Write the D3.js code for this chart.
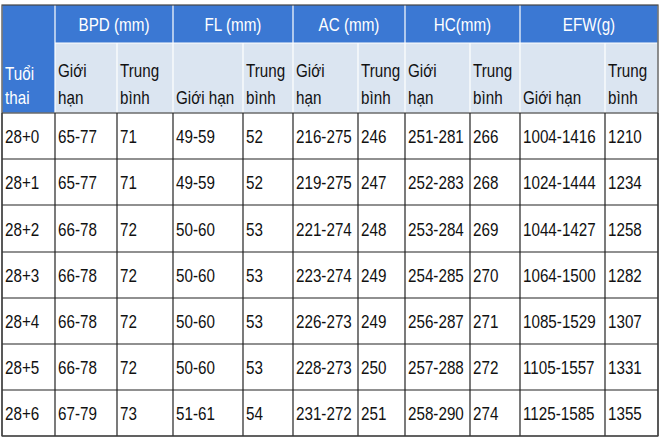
<!DOCTYPE html><html><head><meta charset="utf-8">
<script src="https://cdn.jsdelivr.net/npm/d3@7"></script>
<style>body{margin:0;background:#fff}</style></head><body><svg id="c" width="660" height="440"></svg>
<script>
const groups=["BPD (mm)","FL (mm)","AC (mm)","HC(mm)","EFW(g)"];
const subHeaders=[["Giới","hạn"],["Trung","bình"],["Giới hạn"],["Trung","bình"],["Giới","hạn"],["Trung","bình"],["Giới","hạn"],["Trung","bình"],["Giới hạn"],["Trung","bình"]];
const ages=["28+0","28+1","28+2","28+3","28+4","28+5","28+6"];
const bpdRange=["65-77","65-77","66-78","66-78","66-78","66-78","67-79"];
const bpdMean=[71,71,72,72,72,72,73];
const flRange=["49-59","49-59","50-60","50-60","50-60","50-60","51-61"];
const flMean=[52,52,53,53,53,53,54];
const acRange=["216-275","219-275","221-274","223-274","226-273","228-273","231-272"];
const acMean=[246,247,248,249,249,250,251];
const hcRange=["251-281","252-283","253-284","254-285","256-287","257-288","258-290"];
const hcMean=[266,268,269,270,271,272,274];
const efwRange=["1004-1416","1024-1444","1044-1427","1064-1500","1085-1529","1105-1557","1125-1585"];
const efwMean=[1210,1234,1258,1282,1307,1331,1355];

const colEdges=[2,55,117,173,243,293,358,405,470,520,605,658];
const rowEdges=[5,43,113,159,205,252,298,344,390,436];
const svg=d3.select("#c");
const font="'Liberation Sans',Arial,sans-serif";
const blue="#3b78d3", light="#dbe5f1";
const cols=[ages,bpdRange,bpdMean,flRange,flMean,acRange,acMean,hcRange,hcMean,efwRange,efwMean];
const x=i=>colEdges[i], y=i=>rowEdges[i];
svg.append("rect").attr("x",x(0)).attr("y",y(0)).attr("width",x(11)-x(0)).attr("height",y(1)-y(0)).attr("fill",blue);
svg.append("rect").attr("x",x(0)).attr("y",y(1)).attr("width",x(1)-x(0)).attr("height",y(2)-y(1)).attr("fill",blue);
svg.append("rect").attr("x",x(1)).attr("y",y(1)).attr("width",x(11)-x(1)).attr("height",y(2)-y(1)).attr("fill",light);
const g=svg.append("g").attr("font-family",font).attr("font-size",19);
groups.forEach((t,i)=>g.append("text").attr("x",(x(1+2*i)+x(3+2*i))/2).attr("y",(y(0)+y(1))/2+7).attr("text-anchor","middle").attr("fill","#fff").text(t));
g.append("text").attr("x",x(0)+3).attr("y",y(2)-33).attr("fill","#fff").text("Tuổi");
g.append("text").attr("x",x(0)+3).attr("y",y(2)-9).attr("fill","#fff").text("thai");
subHeaders.forEach((lines,i)=>{
  const n=lines.length;
  lines.forEach((l,j)=>g.append("text").attr("x",x(i+1)+3).attr("y",y(2)-9-(n-1-j)*27).attr("fill","#111").text(l));
});
cols.forEach((col,c)=>col.forEach((v,r)=>g.append("text").attr("x",x(c)+3).attr("y",(y(r+2)+y(r+3))/2+7).attr("fill","#111").text(v)));
// condense to mimic a narrow font
g.selectAll("text").each(function(){const L=this.getComputedTextLength();d3.select(this).attr("textLength",L*0.8).attr("lengthAdjust","spacingAndGlyphs");});
const lines=svg.append("g").attr("stroke","#222").attr("stroke-width",1.2);
rowEdges.forEach((yy,i)=>{ if(i===0)return; lines.append("line").attr("x1",i===1?x(1):x(0)).attr("x2",x(11)).attr("y1",yy).attr("y2",yy).attr("stroke",i<=2?"#fff":"#222");});
colEdges.forEach((xx,i)=>{
  const top=(i%2===1||i===0||i===11)?y(0):y(1);
  lines.append("line").attr("x1",xx).attr("x2",xx).attr("y1",top).attr("y2",y(2)).attr("stroke","#fff");
  lines.append("line").attr("x1",xx).attr("x2",xx).attr("y1",y(2)).attr("y2",y(9));
});
lines.append("line").attr("x1",x(0)).attr("x2",x(11)).attr("y1",y(2)).attr("y2",y(2));
lines.append("rect").attr("x",x(0)).attr("y",y(0)).attr("width",x(11)-x(0)).attr("height",y(9)-y(0)).attr("fill","none").attr("stroke","#444");
</script></body></html>
